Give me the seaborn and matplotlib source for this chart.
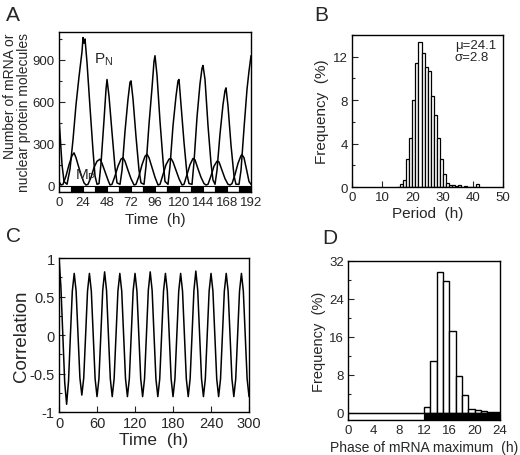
import numpy as np
import pandas as pd
import matplotlib
matplotlib.use('Agg')
import matplotlib.pyplot as plt
from matplotlib.ticker import MultipleLocator
import seaborn as sns

# ---- panel A: stochastic time series (molecules) ----
pn_time = [0, 3, 5, 8, 11, 14, 17, 20, 23, 24, 25, 26, 28, 31, 34, 36, 38, 40,
           42, 45, 47, 48, 50, 53, 56, 58, 61, 63, 66, 69, 71, 72, 74, 77, 80,
           82, 85, 87, 90, 93, 95, 96, 98, 101, 104, 106, 109, 111, 114, 117,
           119, 120, 122, 125, 128, 130, 133, 135, 138, 141, 143, 144, 146, 149,
           152, 154, 156, 158, 161, 164, 166, 167, 169, 172, 175, 177, 180, 182,
           185, 188, 190, 192]
pn_value = [480, 150, 30, 10, 120, 330, 580, 780, 960, 1060, 1020, 1050, 880,
            560, 250, 70, 10, 15, 160, 470, 690, 760, 640, 380, 130, 20, 10,
            110, 390, 620, 740, 750, 620, 350, 110, 20, 10, 140, 440, 700, 890,
            930, 790, 460, 180, 30, 10, 140, 430, 640, 750, 760, 580, 310, 80,
            15, 10, 170, 490, 730, 840, 860, 760, 430, 160, 40, 10, 110, 370,
            580, 680, 700, 570, 290, 70, 10, 10, 110, 410, 690, 820, 930]

mp_time = [0, 2, 4, 7, 10, 13, 15, 17, 19, 22, 25, 27, 29, 32, 35, 38, 41, 43,
           46, 49, 51, 53, 56, 59, 62, 64, 66, 69, 72, 75, 77, 80, 83, 86, 88,
           90, 93, 96, 99, 101, 104, 107, 110, 112, 114, 117, 120, 123, 125,
           128, 131, 134, 136, 139, 142, 145, 147, 149, 152, 155, 158, 160, 163,
           166, 169, 171, 173, 176, 179, 182, 183, 185, 188, 190, 192]
mp_value = [30, 5, 10, 70, 150, 215, 235, 200, 150, 80, 20, 5, 10, 60, 130, 175,
            190, 160, 100, 40, 5, 10, 70, 140, 190, 200, 175, 110, 50, 5, 10,
            70, 150, 210, 225, 200, 130, 60, 5, 10, 80, 150, 190, 195, 170, 110,
            50, 5, 10, 80, 150, 195, 185, 120, 60, 15, 5, 10, 70, 140, 175, 170,
            110, 50, 10, 5, 15, 80, 160, 215, 222, 200, 100, 30, 10]

ld_start_a = [0, 12, 24, 36, 48, 60, 72, 84, 96, 108, 120, 132, 144, 156, 168, 180]
ld_phase_a = ['L', 'D'] * 8

# ---- panel B: period histogram ----
period_bin = [16, 17, 18, 19, 20, 21, 22, 23, 24, 25, 26, 27, 28, 29, 30, 31,
              32, 33, 34, 35, 37, 41]
period_freq = [0.25, 0.6, 2.6, 4.5, 8.0, 11.4, 13.4, 12.3, 11.1, 10.7, 8.4, 6.6,
               4.5, 2.6, 1.2, 0.4, 0.2, 0.2, 0.1, 0.2, 0.1, 0.3]

# ---- panel C: autocorrelation ----
corr_time = list(range(0, 301, 3))
corr_value = [1.00, 0.62, 0.00, -0.62, -0.90, -0.60, 0.00, 0.57,
              0.80, 0.57, 0.00, -0.56, -0.78, -0.56, 0.00, 0.57,
              0.80, 0.57, 0.00, -0.57, -0.80, -0.57, 0.00, 0.58,
              0.82, 0.58, 0.00, -0.57, -0.80, -0.57, 0.00, 0.57,
              0.80, 0.57, 0.00, -0.57, -0.80, -0.57, 0.00, 0.57,
              0.80, 0.57, 0.00, -0.57, -0.80, -0.57, 0.00, 0.58,
              0.82, 0.58, 0.00, -0.57, -0.80, -0.57, 0.00, 0.57,
              0.80, 0.57, 0.00, -0.57, -0.80, -0.57, 0.00, 0.57,
              0.80, 0.57, 0.00, -0.57, -0.80, -0.57, 0.00, 0.58,
              0.83, 0.58, 0.00, -0.57, -0.80, -0.57, 0.00, 0.57,
              0.80, 0.57, 0.00, -0.57, -0.80, -0.57, 0.00, 0.57,
              0.80, 0.57, 0.00, -0.57, -0.80, -0.57, 0.00, 0.57,
              0.80, 0.57, 0.00, -0.57,
              -0.80]

# ---- panel D: phase of mRNA maximum ----
phase_bin = [12, 13, 14, 15, 16, 17, 18, 19, 20, 21, 22, 23]
phase_freq = [1.3, 11.0, 29.7, 27.7, 17.3, 7.7, 3.7, 0.8, 0.6, 0.3, 0.2, 0.1]
ld_start_d = [0, 12]
ld_phase_d = ['L', 'D']

sns.set_style('ticks')
plt.rcParams['font.family'] = ['Liberation Sans', 'DejaVu Sans']
plt.rcParams['axes.linewidth'] = 1.0
plt.rcParams['xtick.direction'] = 'in'
plt.rcParams['ytick.direction'] = 'in'
plt.rcParams['mathtext.fontset'] = 'custom'
plt.rcParams['mathtext.rm'] = 'Liberation Sans'

fig = plt.figure(figsize=(5.2, 4.56), dpi=100)

ax_a = fig.add_axes([0.1135, 0.5768, 0.3692, 0.3509])
ax_b = fig.add_axes([0.677, 0.5877, 0.2904, 0.3333])
ax_c = fig.add_axes([0.1135, 0.0943, 0.3654, 0.3377])
ax_d = fig.add_axes([0.6692, 0.0768, 0.2923, 0.3487])


def style_ticks(ax, size=9.5):
    ax.tick_params(which='major', length=4, width=0.8, labelsize=size, pad=3)
    ax.tick_params(which='minor', length=2.5, width=0.8)
    for s in ax.spines.values():
        s.set_color('black')


# A
sns.lineplot(x=pn_time, y=pn_value, ax=ax_a, color='black', linewidth=1.1)
sns.lineplot(x=mp_time, y=mp_value, ax=ax_a, color='black', linewidth=1.1)
ax_a.bar(ld_start_a, [45] * len(ld_start_a), width=12, bottom=-45, align='edge',
         color=['white' if p == 'L' else 'black' for p in ld_phase_a],
         edgecolor='black', linewidth=0.8)
ax_a.set_xlim(0, 192)
ax_a.set_ylim(-45, 1100)
ax_a.set_xticks(range(0, 193, 24))
ax_a.set_yticks([0, 300, 600, 900])
ax_a.yaxis.set_minor_locator(MultipleLocator(150))
ax_a.tick_params(axis='x', length=0)
style_ticks(ax_a)
ax_a.set_xlabel('Time  (h)', fontsize=11, labelpad=3)
ylab = ax_a.set_ylabel('Number of mRNA or\nnuclear protein molecules', fontsize=10,
                       labelpad=1, linespacing=1.0)
ylab.set_multialignment('right')
ax_a.text(35, 880, r'P$_\mathregular{N}$', fontsize=11)
ax_a.text(16, 55, r'M$_\mathregular{P}$', fontsize=11)

# B
period_df = pd.DataFrame({'period': period_bin, 'freq': period_freq})
sns.histplot(data=period_df, x='period', weights='freq', bins=list(range(15, 43)),
             ax=ax_b, color='white', edgecolor='black', linewidth=0.9, alpha=1)
ax_b.set_xlim(0, 50)
ax_b.set_ylim(0, 14)
ax_b.set_xticks(range(0, 51, 10))
ax_b.set_yticks([0, 4, 8, 12])
ax_b.yaxis.set_minor_locator(MultipleLocator(2))
style_ticks(ax_b)
ax_b.set_xlabel('Period  (h)', fontsize=11, labelpad=2)
ax_b.set_ylabel('Frequency  (%)', fontsize=11, labelpad=3)
ax_b.text(34, 13.6, 'μ=24.1\nσ=2.8', fontsize=9.5, va='top', linespacing=1.0)

# C
sns.lineplot(x=corr_time, y=corr_value, ax=ax_c, color='black', linewidth=1.1)
ax_c.set_xlim(0, 300)
ax_c.set_ylim(-1, 1)
ax_c.set_xticks(range(0, 301, 60))
ax_c.set_yticks([-1, -0.5, 0, 0.5, 1])
ax_c.set_yticklabels(['-1', '-0.5', '0', '0.5', '1'])
ax_c.yaxis.set_minor_locator(MultipleLocator(0.25))
style_ticks(ax_c, size=10.5)
ax_c.set_xlabel('Time  (h)', fontsize=12.5, labelpad=1)
ax_c.set_ylabel('Correlation', fontsize=13.5, labelpad=0)

# D
ax_d.bar(ld_start_d, [1.5, 1.5], width=12, bottom=-1.5, align='edge',
         color=['white' if p == 'L' else 'black' for p in ld_phase_d],
         edgecolor='black', linewidth=0.8)
ax_d.axhline(0, color='black', linewidth=1.0)
phase_df = pd.DataFrame({'phase': phase_bin, 'freq': phase_freq})
sns.histplot(data=phase_df, x='phase', weights='freq', bins=list(range(12, 25)),
             ax=ax_d, color='white', edgecolor='black', linewidth=1.0, alpha=1)
ax_d.set_xlim(0, 24)
ax_d.set_ylim(-1.5, 32)
ax_d.set_xticks(range(0, 25, 4))
ax_d.set_yticks([0, 8, 16, 24, 32])
ax_d.yaxis.set_minor_locator(MultipleLocator(4))
ax_d.tick_params(axis='x', length=0)
style_ticks(ax_d)
ax_d.set_xlabel('Phase of mRNA maximum  (h)', fontsize=10, labelpad=3)
ax_d.set_ylabel('Frequency  (%)', fontsize=10.5, labelpad=2)

fig.text(0.012, 0.965, 'A', fontsize=15, va='center')
fig.text(0.605, 0.965, 'B', fontsize=15, va='center')
fig.text(0.012, 0.482, 'C', fontsize=15, va='center')
fig.text(0.619, 0.478, 'D', fontsize=15, va='center')

fig.savefig('out.png', dpi=100, facecolor='white')
